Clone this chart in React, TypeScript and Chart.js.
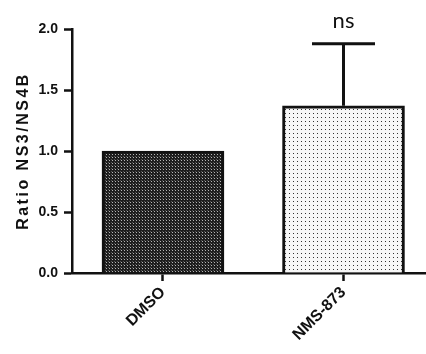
import React, { useEffect, useRef } from "react";
import { Chart, registerables } from "chart.js";

Chart.register(...registerables);

const categories = ["DMSO", "NMS-873"];
const means = [1.0, 1.37];
const sems = [0, 0.51];
const annotations = ["", "ns"];
const yTickValues = [0, 0.5, 1.0, 1.5, 2.0];
const yTitle = "Ratio NS3/NS4B";

function makePattern(kind: "dark" | "light"): CanvasPattern | string {
  const c = document.createElement("canvas");
  const ctx = c.getContext("2d");
  if (!ctx) return kind === "dark" ? "#444" : "#eee";
  if (kind === "dark") {
    c.width = 3;
    c.height = 3;
    ctx.fillStyle = "#1e1e1e";
    ctx.fillRect(0, 0, 3, 3);
    ctx.fillStyle = "#b5b5b5";
    ctx.fillRect(1, 1, 1, 1);
    ctx.fillStyle = "#555";
    ctx.fillRect(0, 0, 1, 1);
  } else {
    c.width = 4;
    c.height = 4;
    ctx.fillStyle = "#f7f7f7";
    ctx.fillRect(0, 0, 4, 4);
    ctx.fillStyle = "#333";
    ctx.fillRect(1, 1, 1, 1);
  }
  return ctx.createPattern(c, "repeat") as CanvasPattern;
}

const errorBarPlugin = {
  id: "errorBars",
  afterDatasetsDraw(chart: any) {
    const ctx = chart.ctx;
    const meta = chart.getDatasetMeta(0);
    const yScale = chart.scales.y;
    ctx.save();
    meta.data.forEach((bar: any, i: number) => {
      const top = yScale.getPixelForValue(means[i] + sems[i]);
      if (sems[i] > 0) {
        ctx.strokeStyle = "#111";
        ctx.lineWidth = 3;
        ctx.beginPath();
        ctx.moveTo(bar.x, bar.y);
        ctx.lineTo(bar.x, top);
        ctx.moveTo(bar.x - 31.5, top);
        ctx.lineTo(bar.x + 31.5, top);
        ctx.stroke();
      }
      if (annotations[i]) {
        ctx.fillStyle = "#111";
        ctx.font = "22px Lato, 'Open Sans', sans-serif";
        ctx.textAlign = "center";
        ctx.textBaseline = "alphabetic";
        ctx.fillText(annotations[i], bar.x, top - 16);
      }
    });
    ctx.restore();
  },
};

const yTitlePlugin = {
  id: "yTitle",
  afterDraw(chart: any) {
    const ctx = chart.ctx;
    const area = chart.chartArea;
    ctx.save();
    ctx.translate(24, (area.top + area.bottom) / 2);
    ctx.rotate(-Math.PI / 2);
    ctx.fillStyle = "#111";
    ctx.font = "bold 16px 'Liberation Sans', Arial, sans-serif";
    try {
      (ctx as any).letterSpacing = "2.5px";
    } catch (e) {}
    ctx.textAlign = "center";
    ctx.textBaseline = "middle";
    ctx.fillText(yTitle, 0, 0);
    ctx.restore();
  },
};

export default function App() {
  const ref = useRef<HTMLCanvasElement | null>(null);
  useEffect(() => {
    if (!ref.current) return;
    const patterns = [makePattern("dark"), makePattern("light")];
    const chart = new Chart(ref.current, {
      type: "bar",
      data: {
        datasets: [
          {
            data: means.map((v, i) => ({ x: i, y: v })),
            backgroundColor: patterns as any,
            borderColor: "#111",
            borderWidth: 3,
            borderSkipped: "start",
            barThickness: 122,
          } as any,
        ],
      },
      options: {
        animation: false,
        responsive: false,
        events: [],
        layout: { padding: { top: 29, left: 0, right: 0, bottom: 0 } },
        plugins: { legend: { display: false }, tooltip: { enabled: false } },
        scales: {
          x: {
            type: "linear",
            min: -0.504,
            max: 1.457,
            offset: false,
            afterFit: (s: any) => {
              s.height = 81;
            },
            afterBuildTicks: (s: any) => {
              s.ticks = categories.map((_, i) => ({ value: i }));
            },
            ticks: {
              autoSkip: false,
              minRotation: 45,
              maxRotation: 45,
              padding: 2,
              color: "#111",
              font: { family: "'Liberation Sans', Arial, sans-serif", size: 16, weight: "bold" },
              callback: (v: any) => categories[Math.round(Number(v))] ?? "",
            },
            grid: {
              display: true,
              offset: false,
              drawOnChartArea: false,
              drawTicks: true,
              tickLength: 8,
              tickColor: "#111",
              tickWidth: 2.5,
            },
            border: { display: true, color: "#111", width: 2.5 },
          },
          y: {
            type: "linear",
            min: 0,
            max: 2,
            afterFit: (s: any) => {
              s.width = 72;
            },
            afterBuildTicks: (s: any) => {
              s.ticks = yTickValues.map((v) => ({ value: v }));
            },
            ticks: {
              padding: 6,
              color: "#111",
              font: { family: "'Liberation Sans', Arial, sans-serif", size: 14, weight: "bold" },
              callback: (v: any) => Number(v).toFixed(1),
            },
            grid: {
              display: true,
              drawOnChartArea: false,
              drawTicks: true,
              tickLength: 8,
              tickColor: "#111",
              tickWidth: 2.5,
            },
            border: { display: true, color: "#111", width: 2.5 },
          },
        },
      },
      plugins: [errorBarPlugin, yTitlePlugin],
    } as any);
    return () => chart.destroy();
  }, []);
  return (
    <div style={{ position: "absolute", left: 0, top: 0, width: 426, height: 354, background: "#fff" }}>
      <canvas ref={ref} width={426} height={354} style={{ display: "block" }} />
    </div>
  );
}
